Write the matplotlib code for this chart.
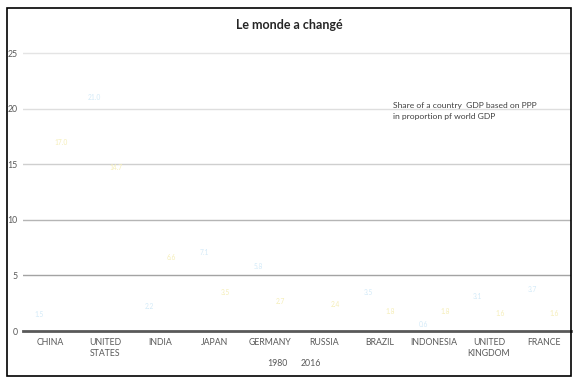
import numpy as np
import matplotlib.pyplot as plt
from matplotlib.patches import Rectangle

plt.rcParams['font.family'] = ['Lato', 'DejaVu Sans']

countries = ['CHINA', 'UNITED\nSTATES', 'INDIA', 'JAPAN', 'GERMANY', 'RUSSIA',
             'BRAZIL', 'INDONESIA', 'UNITED\nKINGDOM', 'FRANCE']
share_1980 = [1.5, 21.0, 2.2, 7.1, 5.8, np.nan, 3.5, 0.6, 3.1, 3.7]
share_2016 = [17.0, 14.7, 6.6, 3.5, 2.7, 2.4, 1.8, 1.8, 1.6, 1.6]
years = ['1980', '2016']
yticks = [0, 5, 10, 15, 20, 25]

fig = plt.figure(figsize=(5.83, 3.82), dpi=100)
ax = fig.add_axes([0.0395, 0.1335, 0.94, 0.785])

x = np.arange(len(countries))
off = 0.2
label_cols = ['#d3eaf8', '#f5eeb8']
for k, (vals, yr) in enumerate(zip([share_1980, share_2016], years)):
    xs = x + (-off if k == 0 else off)
    ax.scatter(xs, vals, s=0, label=yr)
    for xi, v in zip(xs, vals):
        if np.isnan(v):
            continue
        ax.text(xi, v, f'{v:.1f}', fontsize=4.8, color=label_cols[k],
                ha='center', va='center')

ax.set_xlim(-0.5, len(countries) - 0.5)
ax.set_ylim(0, 27)
ax.set_yticks(yticks)
ax.set_xticks(x)
ax.set_xticklabels(countries, fontsize=6.3, color='#595959', linespacing=1.35)
ax.tick_params(axis='x', length=0, pad=5)
ax.tick_params(axis='y', length=0, pad=4, labelsize=6.3, labelcolor='#595959')

for s in ['top', 'right', 'left']:
    ax.spines[s].set_visible(False)
ax.spines['bottom'].set_color('#595959')
ax.spines['bottom'].set_linewidth(2)

ax.yaxis.grid(True)
ax.set_axisbelow(True)
grid_cols = ['#ffffff', '#a3a3a3', '#b5b5b5', '#cfcfcf', '#dedede', '#e4e4e4']
for gl, c in zip(ax.yaxis.get_gridlines(), grid_cols):
    gl.set_color(c)
    gl.set_linewidth(1)

ax.text(0.675, 0.765, 'Share of a country  GDP based on PPP\nin proportion pf world GDP',
        transform=ax.transAxes, fontsize=6.1, color='#404040', va='top',
        linespacing=1.65)

fig.text(0.496, 0.935, 'Le monde a changé', ha='center', va='center',
         fontsize=9, fontweight='bold', color='#262626')

leg = ax.legend(loc='lower center', bbox_to_anchor=(0.49, -0.148), ncol=2,
                frameon=False, fontsize=6.3, handlelength=0.3,
                columnspacing=0.9, handletextpad=0.3)
for t in leg.get_texts():
    t.set_color('#595959')

fig.patches.append(Rectangle((7 / 583, 1 - 376 / 382), 564 / 583, 368 / 382,
                             transform=fig.transFigure, fill=False,
                             edgecolor='black', linewidth=1.2))

fig.savefig('out.png', dpi=100)
